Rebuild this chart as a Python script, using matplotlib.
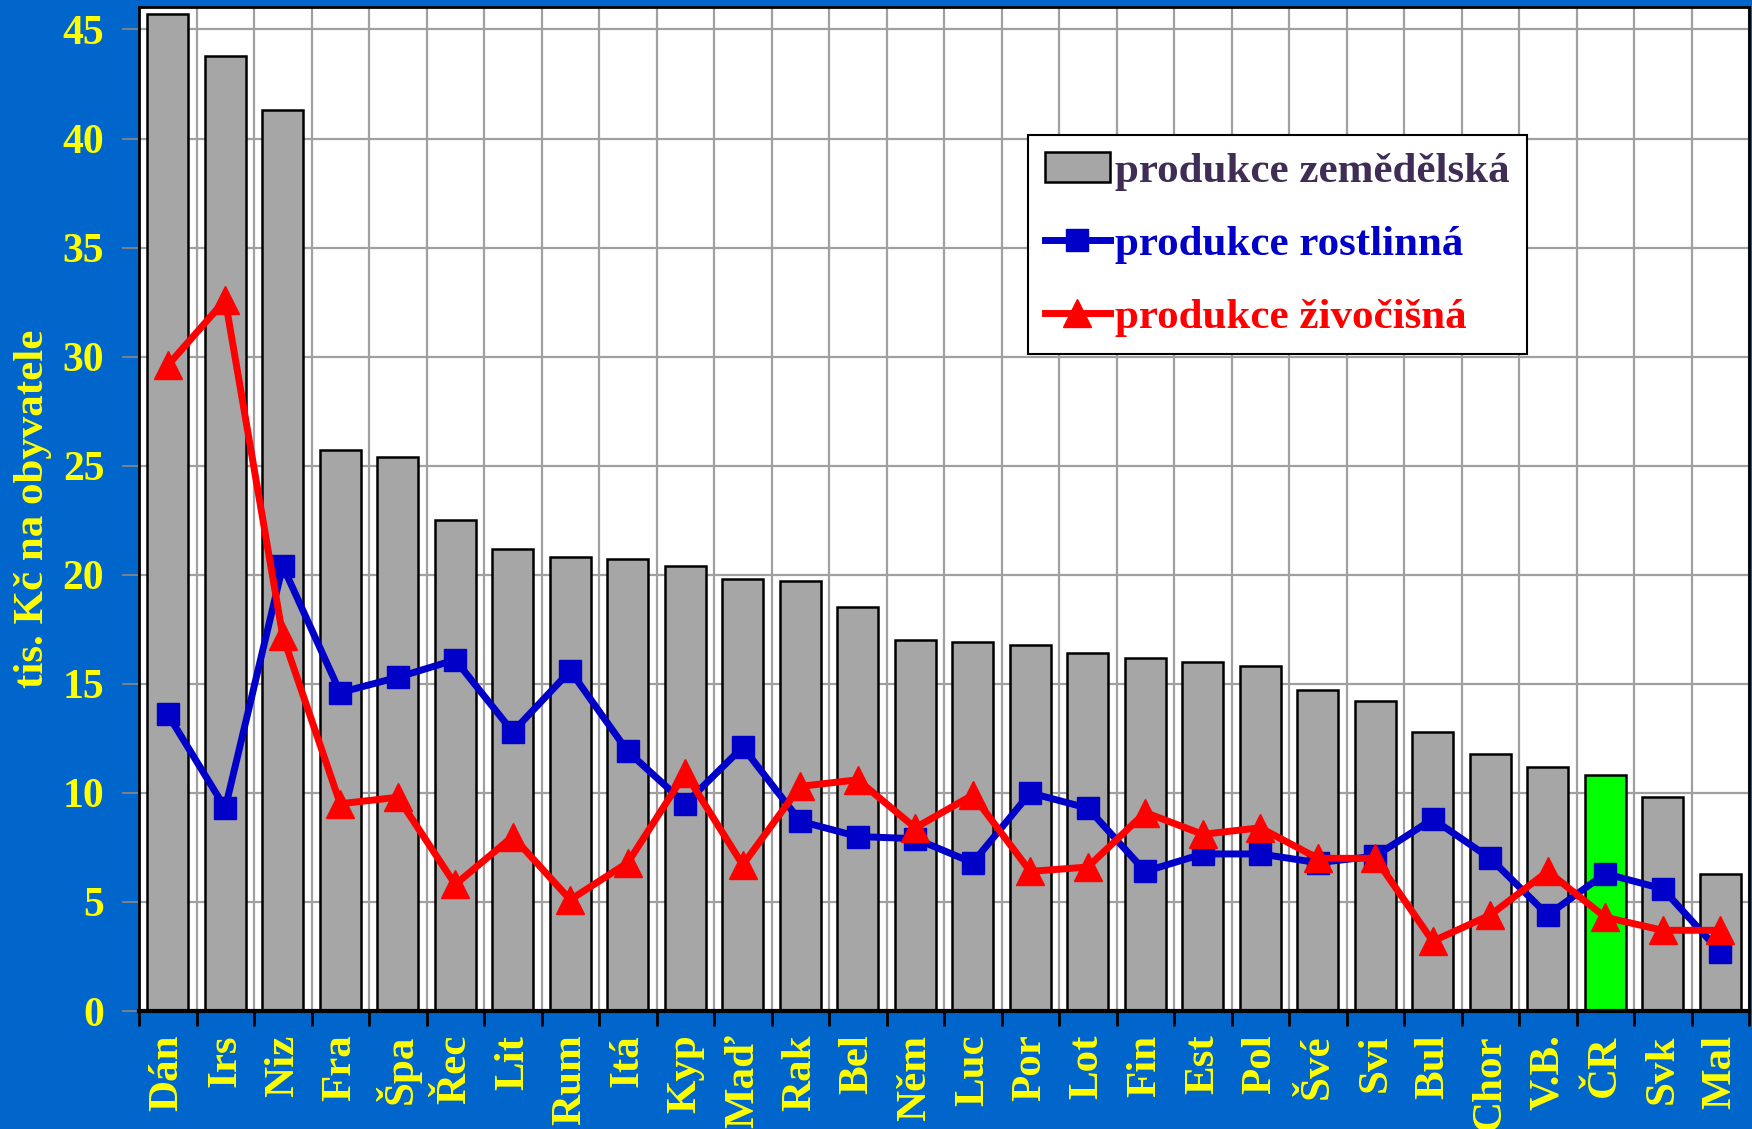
import matplotlib
matplotlib.use("Agg")
import matplotlib.pyplot as plt
from matplotlib.patches import Patch
import numpy as np

# zeme (zkratky) a hodnoty v tis. Kc na obyvatele
zeme = ["Dán", "Irs", "Niz", "Fra", "Špa", "Řec", "Lit", "Rum", "Itá", "Kyp",
        "Maď", "Rak", "Bel", "Něm", "Luc", "Por", "Lot", "Fin", "Est", "Pol",
        "Švé", "Svi", "Bul", "Chor", "V.B.", "ČR", "Svk", "Mal"]
zemedelska = [45.7, 43.8, 41.3, 25.7, 25.4, 22.5, 21.2, 20.8, 20.7, 20.4,
              19.8, 19.7, 18.5, 17.0, 16.9, 16.8, 16.4, 16.2, 16.0, 15.8,
              14.7, 14.2, 12.8, 11.8, 11.2, 10.8, 9.8, 6.3]
rostlinna = [13.6, 9.3, 20.4, 14.6, 15.3, 16.1, 12.8, 15.6, 11.9, 9.5,
             12.1, 8.7, 8.0, 7.9, 6.8, 10.0, 9.3, 6.4, 7.2, 7.2,
             6.8, 7.1, 8.8, 7.0, 4.4, 6.3, 5.6, 2.7]
zivocisna = [29.6, 32.6, 17.2, 9.5, 9.8, 5.8, 8.0, 5.1, 6.8, 10.9,
             6.7, 10.3, 10.6, 8.4, 9.9, 6.4, 6.6, 9.1, 8.1, 8.4,
             7.0, 7.0, 3.2, 4.4, 6.4, 4.3, 3.7, 3.7]
y_ticks = [0, 5, 10, 15, 20, 25, 30, 35, 40, 45]

bg = "#0066CC"
zluta = "#FFFF00"
modra = "#0000C8"
cervena = "#FF0000"
font = ["Liberation Serif", "DejaVu Serif"]

plt.rcParams["font.family"] = font
plt.rcParams["font.weight"] = "bold"

fig = plt.figure(figsize=(17.52, 11.29), dpi=100, facecolor=bg)
ax = fig.add_axes([139 / 1752, 118 / 1129, 1610 / 1752, 1004 / 1129])
ax.set_facecolor("white")

x = np.arange(len(zeme))
barvy = ["#00FF00" if z == "ČR" else "#A6A6A6" for z in zeme]
ax.bar(x, zemedelska, width=0.72, color=barvy, edgecolor="black",
       linewidth=1.8, zorder=2)
l1, = ax.plot(x, rostlinna, color=modra, lw=5, marker="s", ms=16, zorder=3)
l2, = ax.plot(x, zivocisna, color=cervena, lw=5, marker="^", ms=20, zorder=4)

ax.set_xlim(-0.5, len(zeme) - 0.5)
ax.set_ylim(0, 46.03)

# znacky na hranicich kategorii, popisky uprostred
ax.set_xticks(np.arange(len(zeme) + 1) - 0.5)
ax.set_xticklabels([])
ax.set_xticks(x, minor=True)
ax.set_xticklabels(zeme, minor=True, rotation=90, color=zluta,
                   fontsize=31, fontweight="bold", va="top")
ax.tick_params(axis="x", which="major", length=11, width=2, color="black",
               direction="out")
ax.tick_params(axis="x", which="minor", length=0, pad=17)

ax.set_yticks(y_ticks)
ax.set_yticklabels([str(t) for t in y_ticks], color=zluta, fontsize=30,
                   fontweight="bold")
ax.tick_params(axis="y", length=12, width=1.2, color="#888888", pad=13)

ax.grid(True, which="major", color="#A0A0A0", lw=1.6, zorder=0)
ax.set_axisbelow(True)
for s in ax.spines.values():
    s.set_color("black")
    s.set_linewidth(2)
ax.spines["bottom"].set_linewidth(3)

ax.set_ylabel("tis. Kč na obyvatele", color=zluta, fontsize=31,
              fontweight="bold")
ax.yaxis.set_label_coords(-0.054, 0.5)

h0 = Patch(facecolor="#A6A6A6", edgecolor="black", linewidth=1.8)
leg = ax.legend([h0, l1, l2],
                ["produkce zemědělská", "produkce rostlinná", "produkce živočišná"],
                loc="upper left", bbox_to_anchor=(0.552, 0.8725),
                borderaxespad=0, fancybox=False, framealpha=1,
                edgecolor="black", handlelength=1.5,
                handletextpad=0.12, labelspacing=0.78, borderpad=0.4,
                prop={"family": font, "weight": "bold", "size": 31})
leg.get_frame().set_linewidth(1.5)
for t, c in zip(leg.get_texts(), ["#3F2D55", modra, cervena]):
    t.set_color(c)

fig.savefig("out.png", dpi=100, facecolor=bg)
